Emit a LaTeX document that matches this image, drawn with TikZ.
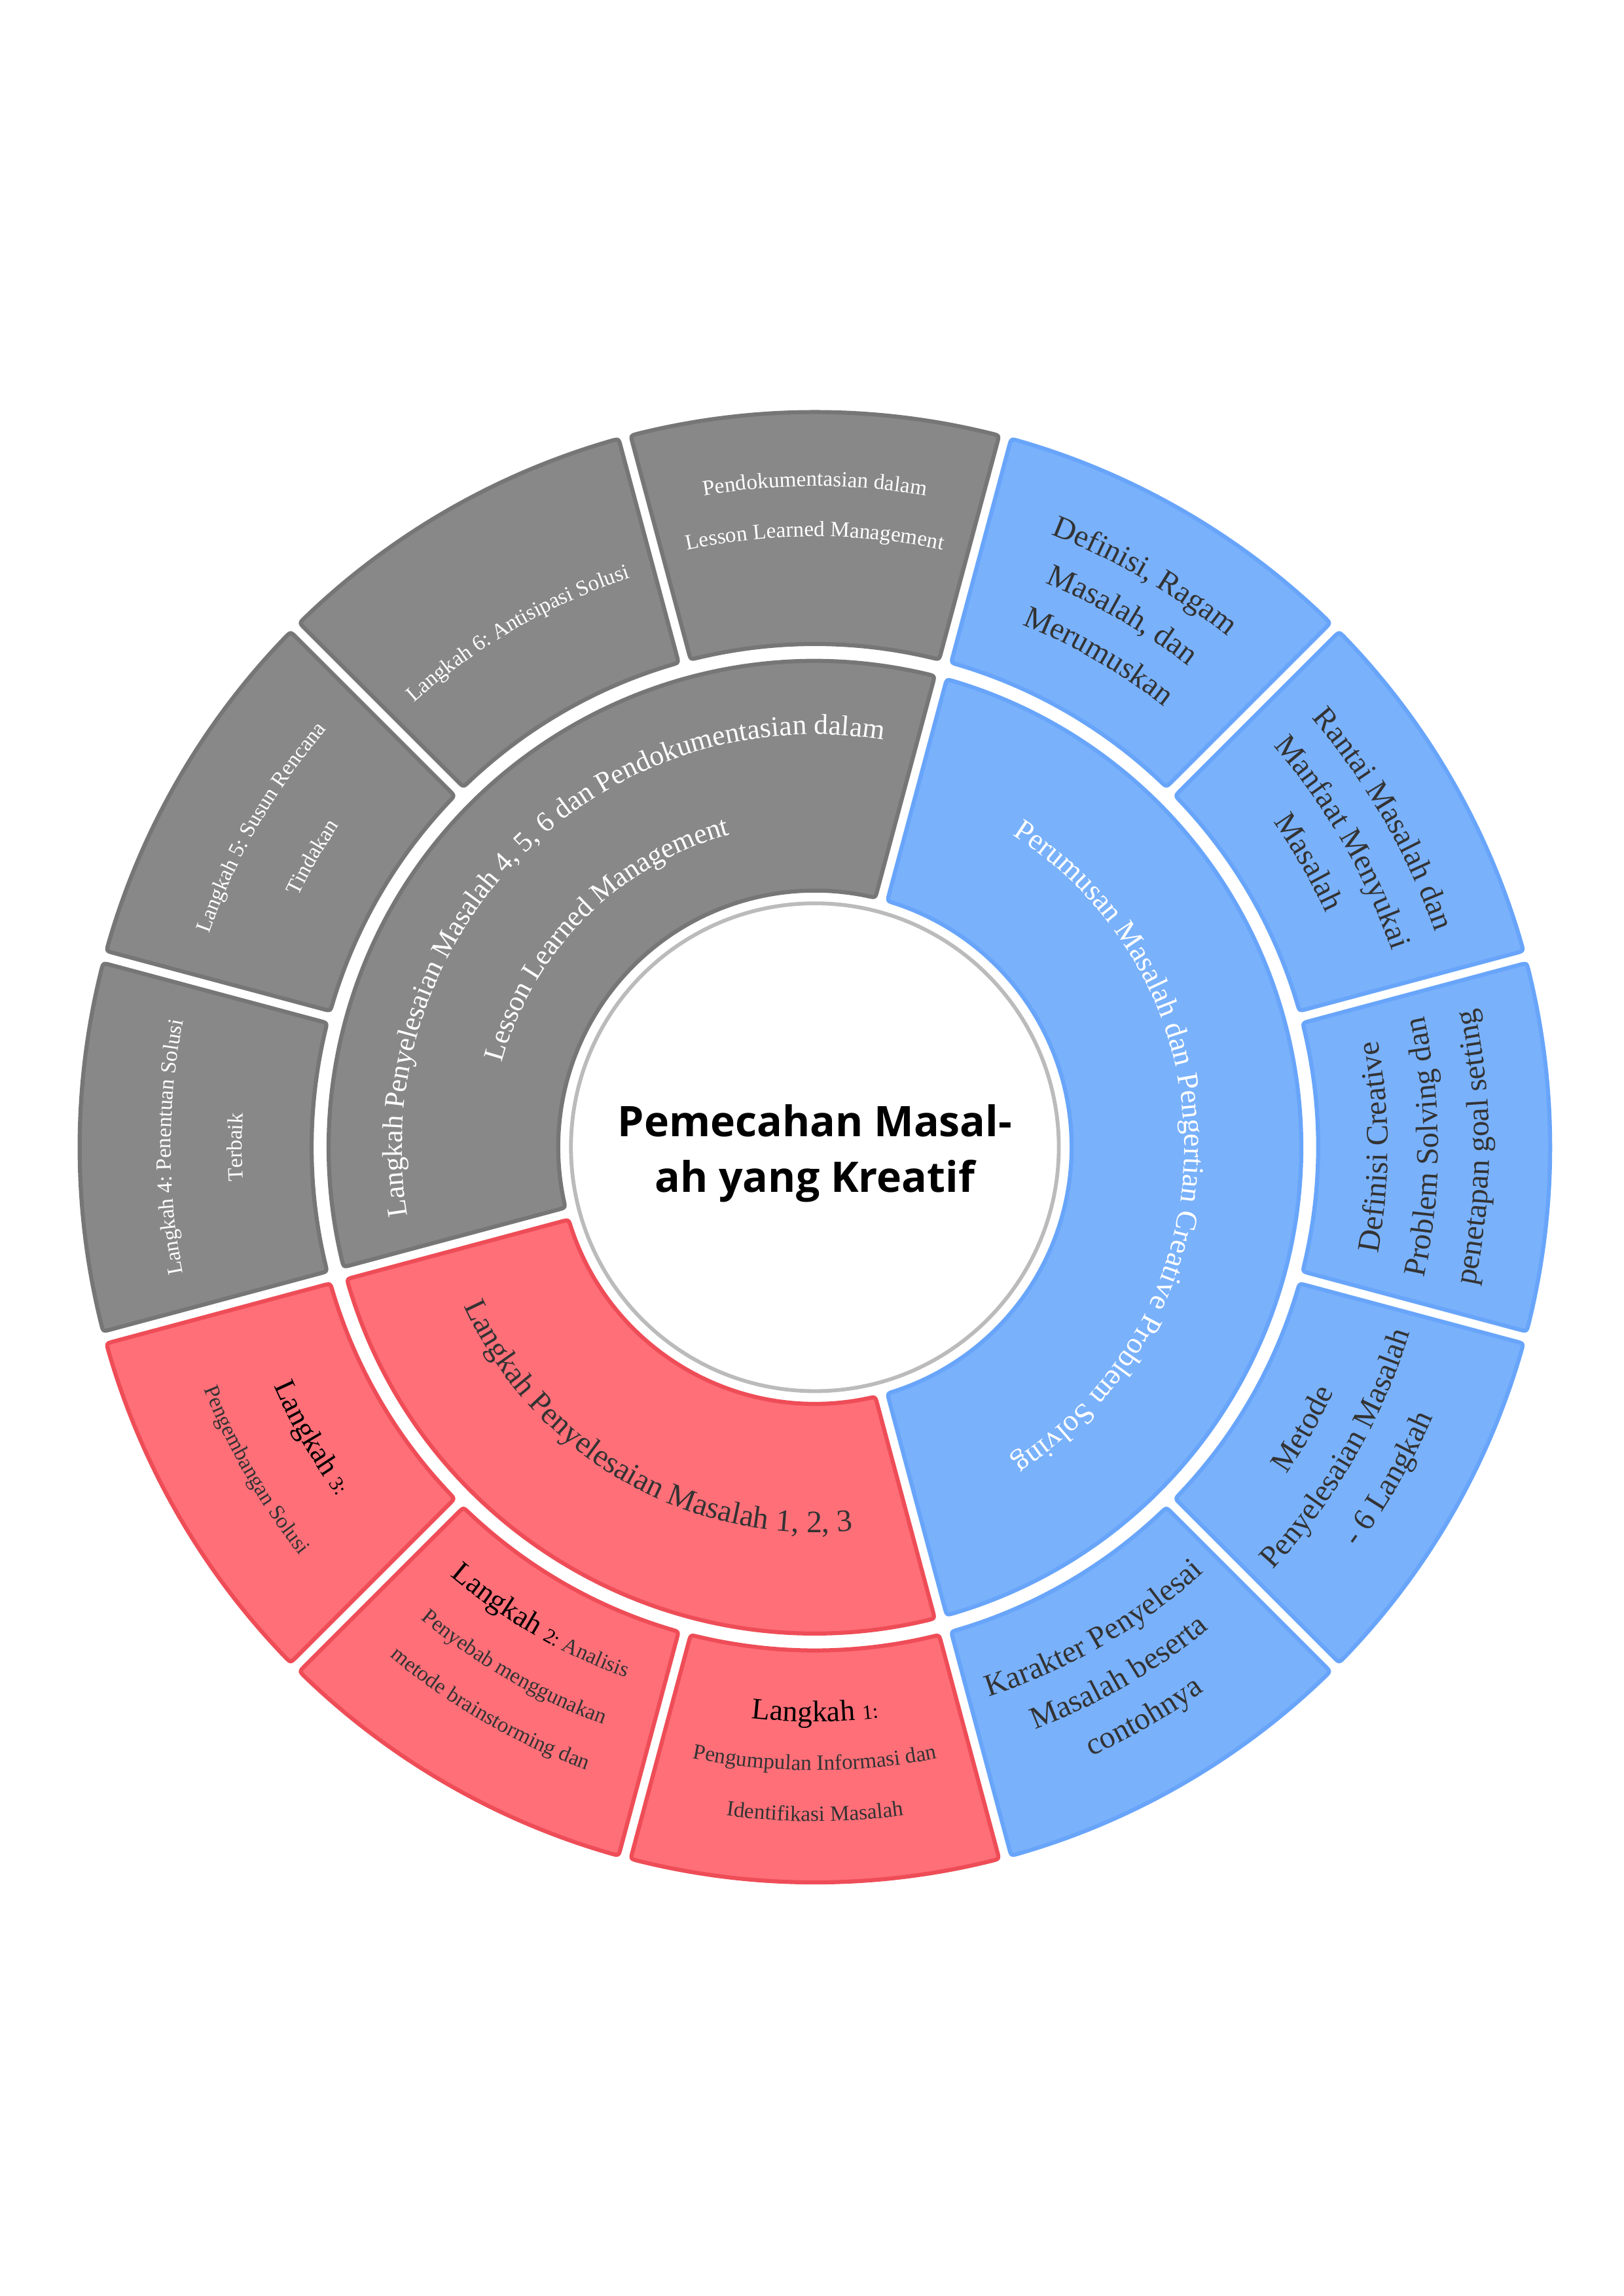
\documentclass[tikz,border=0pt]{standalone}
\usepackage{fontspec}
\setmainfont{Liberation Serif}
\newfontfamily\titlefont{Open Sans}
\usetikzlibrary{decorations.text}

\definecolor{grayfill}{HTML}{888888}
\definecolor{grayline}{HTML}{767676}
\definecolor{bluefill}{HTML}{79B1FB}
\definecolor{blueline}{HTML}{68A5FA}
\definecolor{redfill}{HTML}{FF6F78}
\definecolor{redline}{HTML}{EE4D57}
\definecolor{ringline}{HTML}{BBBBBB}
\definecolor{darktext}{HTML}{333333}

\def\sgap{0.08}
\def\rnd{0.1}

% ring piece: start angle, end angle, inner radius, outer radius, style
\newcommand{\ringpart}[5]{%
  \pgfmathsetmacro\rpAi{#1+\sgap/#3*180/pi}
  \pgfmathsetmacro\rpAo{#1+\sgap/#4*180/pi}
  \pgfmathsetmacro\rpBi{#2-\sgap/#3*180/pi}
  \pgfmathsetmacro\rpBo{#2-\sgap/#4*180/pi}
  \pgfmathsetmacro\rpDi{\rnd/#3*180/pi}
  \pgfmathsetmacro\rpDo{\rnd/#4*180/pi}
  \pgfmathsetmacro\rpRi{#3+\rnd}
  \pgfmathsetmacro\rpRo{#4-\rnd}
  \pgfmathsetmacro\rpAix{#1+\sgap/\rpRi*180/pi}
  \pgfmathsetmacro\rpAox{#1+\sgap/\rpRo*180/pi}
  \pgfmathsetmacro\rpBix{#2-\sgap/\rpRi*180/pi}
  \pgfmathsetmacro\rpBox{#2-\sgap/\rpRo*180/pi}
  \draw[#5] (\rpAix:\rpRi) -- (\rpAox:\rpRo)
    .. controls (\rpAo:#4) .. ({\rpAo+\rpDo}:#4)
    arc[start angle={\rpAo+\rpDo}, end angle={\rpBo-\rpDo}, radius=#4]
    .. controls (\rpBo:#4) .. (\rpBox:\rpRo) -- (\rpBix:\rpRi)
    .. controls (\rpBi:#3) .. ({\rpBi-\rpDi}:#3)
    arc[start angle={\rpBi-\rpDi}, end angle={\rpAi+\rpDi}, radius=#3]
    .. controls (\rpAi:#3) .. (\rpAix:\rpRi) -- cycle;}

% text on an arc: centre angle, radius, format, text
\newcommand{\cwtext}[4]{%
  \path[decorate, decoration={text along path, text align=center, text={|#3|#4}}]
    ({#1+90}:#2) arc[start angle={#1+90}, end angle={#1-90}, radius=#2];}
\newcommand{\ccwtext}[4]{%
  \path[decorate, decoration={text along path, text align=center, text={|#3|#4}}]
    ({#1-90}:#2) arc[start angle={#1-90}, end angle={#1+90}, radius=#2];}

\begin{document}
\begin{tikzpicture}[
    graypart/.style={fill=grayfill, draw=grayline, line width=1.5pt, line join=round},
    bluepart/.style={fill=bluefill, draw=blueline, line width=1.5pt, line join=round},
    redpart/.style={fill=redfill, draw=redline, line width=1.5pt, line join=round}]
  \useasboundingbox (-10.54,-14.86) rectangle (10.46,14.84);

  % centre
  \draw[ringline, line width=1.4pt, fill=white] (0,0) circle (3.155);
  \node[align=center, font=\titlefont\bfseries\fontsize{15.5}{20.5}\selectfont] (title) at (0,-0.08) {Pemecahan Masal-\\ah yang Kreatif};

  % inner ring
  \ringpart{75}{195}{3.32}{6.29}{graypart}
  \ringpart{-75}{75}{3.32}{6.29}{bluepart}
  \ringpart{195}{285}{3.32}{6.29}{redpart}

  % outer ring
  \foreach \a in {75,105,135,165} {\ringpart{\a}{\a+30}{6.51}{9.51}{graypart}}
  \foreach \a in {-75,-45,-15,15,45} {\ringpart{\a}{\a+30}{6.51}{9.51}{bluepart}}
  \foreach \a in {195,225,255} {\ringpart{\a}{\a+30}{6.51}{9.51}{redpart}}

  % inner ring texts
  \cwtext{135}{5.34}{\fontsize{10.5}{12}\selectfont\color{white}}{Langkah Penyelesaian Masalah 4, 5, 6 dan Pendokumentasian dalam}
  \cwtext{135}{4.19}{\fontsize{10.5}{12}\selectfont\color{white}}{Lesson Learned Management}
  \cwtext{0}{4.78}{\fontsize{11}{13}\selectfont\color{white}}{Perumusan Masalah dan Pengertian Creative Problem Solving}
  \ccwtext{240}{4.98}{\fontsize{11.5}{13}\selectfont\color{darktext}}{Langkah Penyelesaian Masalah 1, 2, 3}

  % gray outer texts
  \cwtext{90}{8.55}{\fontsize{8}{10}\selectfont\color{white}}{Pendokumentasian dalam}
  \cwtext{90}{7.90}{\fontsize{8}{10}\selectfont\color{white}}{Lesson Learned Management}
  \cwtext{120}{7.74}{\fontsize{8}{10}\selectfont\color{white}}{Langkah 6: Antisipasi Solusi}
  \cwtext{150}{8.31}{\fontsize{8}{10}\selectfont\color{white}}{Langkah 5: Susun Rencana}
  \cwtext{150}{7.43}{\fontsize{8}{10}\selectfont\color{white}}{Tindakan}
  \cwtext{180}{8.33}{\fontsize{8}{10}\selectfont\color{white}}{Langkah 4: Penentuan Solusi}
  \cwtext{180}{7.41}{\fontsize{8}{10}\selectfont\color{white}}{Terbaik}

  % blue outer texts
  \cwtext{60}{8.49}{\fontsize{11.5}{13}\selectfont\color{darktext}}{Definisi, Ragam}
  \cwtext{60}{7.88}{\fontsize{11.5}{13}\selectfont\color{darktext}}{Masalah, dan}
  \cwtext{60}{7.27}{\fontsize{11.5}{13}\selectfont\color{darktext}}{Merumuskan}
  \cwtext{30}{8.49}{\fontsize{11.5}{13}\selectfont\color{darktext}}{Rantai Masalah dan}
  \cwtext{30}{7.88}{\fontsize{11.5}{13}\selectfont\color{darktext}}{Manfaat Menyukai}
  \cwtext{30}{7.27}{\fontsize{11.5}{13}\selectfont\color{darktext}}{Masalah}
  \ccwtext{0}{7.41}{\fontsize{11.5}{13}\selectfont\color{darktext}}{Definisi Creative}
  \ccwtext{0}{8.06}{\fontsize{11.5}{13}\selectfont\color{darktext}}{Problem Solving dan}
  \ccwtext{0}{8.72}{\fontsize{11.5}{13}\selectfont\color{darktext}}{penetapan goal setting}
  \ccwtext{-30}{7.42}{\fontsize{11.5}{13}\selectfont\color{darktext}}{Metode}
  \ccwtext{-30}{8.06}{\fontsize{11.5}{13}\selectfont\color{darktext}}{Penyelesaian Masalah}
  \ccwtext{-30}{8.72}{\fontsize{11.5}{13}\selectfont\color{darktext}}{- 6 Langkah}
  \ccwtext{-60}{7.45}{\fontsize{11.5}{13}\selectfont\color{darktext}}{Karakter Penyelesai}
  \ccwtext{-60}{8.05}{\fontsize{11.5}{13}\selectfont\color{darktext}}{Masalah beserta}
  \ccwtext{-60}{8.65}{\fontsize{11.5}{13}\selectfont\color{darktext}}{contohnya}

  % red outer texts
  \ccwtext{270}{7.43}{\fontsize{11}{13}\selectfont\color{black}}{Langkah |\fontsize{7.5}{9}\selectfont|1:}
  \ccwtext{270}{8.06}{\fontsize{8}{10}\selectfont\color{darktext}}{Pengumpulan Informasi dan}
  \ccwtext{270}{8.72}{\fontsize{8}{10}\selectfont\color{darktext}}{Identifikasi Masalah}
  \ccwtext{240}{7.28}{\fontsize{11}{13}\selectfont\color{black}}{Langkah |\fontsize{7.5}{9}\selectfont|2: |\fontsize{8}{10}\selectfont\color{darktext}|Analisis}
  \ccwtext{240}{7.95}{\fontsize{8}{10}\selectfont\color{darktext}}{Penyebab menggunakan}
  \ccwtext{240}{8.58}{\fontsize{8}{10}\selectfont\color{darktext}}{metode brainstorming dan}
  \ccwtext{210}{7.65}{\fontsize{11}{13}\selectfont\color{black}}{Langkah |\fontsize{7.5}{9}\selectfont|3:}
  \ccwtext{210}{8.50}{\fontsize{8}{10}\selectfont\color{darktext}}{Pengembangan Solusi}
\end{tikzpicture}
\end{document}
